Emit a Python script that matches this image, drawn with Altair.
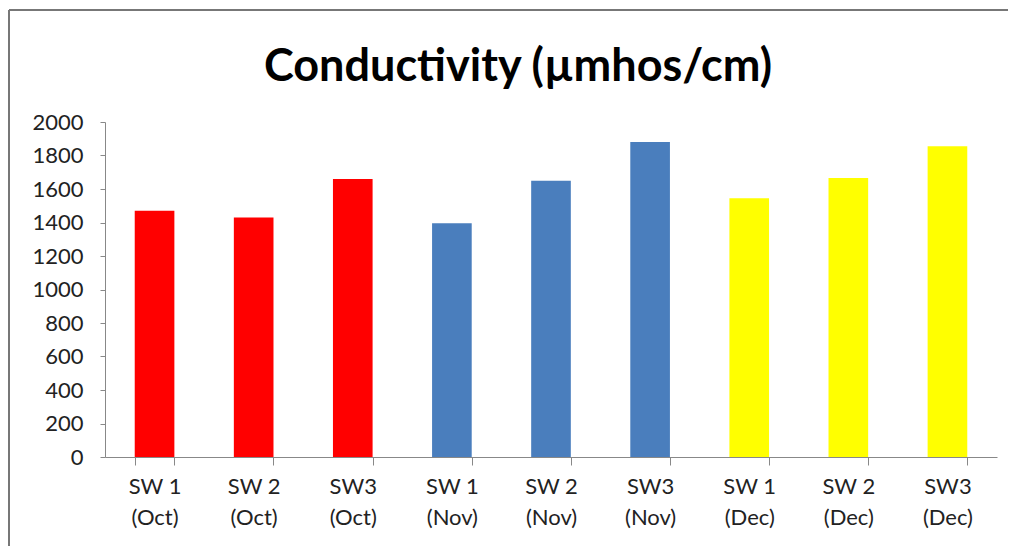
import altair as alt
import pandas as pd

sites = ["SW 1", "SW 2", "SW3", "SW 1", "SW 2", "SW3", "SW 1", "SW 2", "SW3"]
months = ["Oct", "Oct", "Oct", "Nov", "Nov", "Nov", "Dec", "Dec", "Dec"]
values = [1470, 1430, 1660, 1395, 1650, 1880, 1545, 1665, 1855]
month_names = ["Oct", "Nov", "Dec"]
month_colors = ["#FF0000", "#4A7EBD", "#FFFF00"]
y_ticks = [0, 200, 400, 600, 800, 1000, 1200, 1400, 1600, 1800, 2000]
title_text = ["Conductivity (µmhos/cm)"]

labels = [f"{s}|({m})" for s, m in zip(sites, months)]
df = pd.DataFrame({"label": labels, "month": months, "value": values})

FONT = "Lato"
W, H = 892, 335

bars = alt.Chart(df).mark_bar().encode(
    x=alt.X("label:N", sort=labels, title=None,
            scale=alt.Scale(paddingInner=0.6, paddingOuter=0.3),
            axis=alt.Axis(labelAngle=0,
                          labelExpr="datum.value ? split(datum.value, '|') : ''",
                          labelFont=FONT, labelFontSize=22, labelColor="#222",
                          labelLineHeight=31, labelPadding=11,
                          tickBand="extent", tickSize=8, tickColor="#888",
                          domainColor="#888", labelBaseline="top")),
    y=alt.Y("value:Q", title=None,
            scale=alt.Scale(domain=[0, 2000], nice=False),
            axis=alt.Axis(values=y_ticks, grid=False, format="d", labelFont=FONT,
                          labelFontSize=22, labelColor="#222", labelPadding=17,
                          tickSize=5, tickColor="#888", domainColor="#888")),
    color=alt.Color("month:N", scale=alt.Scale(domain=month_names, range=month_colors),
                    legend=None),
)

title = alt.Chart(pd.DataFrame({"t": title_text})).mark_text(
    font=FONT, fontSize=45, fontWeight="bold", color="#000",
    align="center", baseline="alphabetic").encode(
    text="t:N", x=alt.value(W / 2 - 33), y=alt.value(-41))

frame = alt.Chart(df).mark_rule(color="#777", strokeWidth=2).encode(
    x=alt.value(-96), x2=alt.value(-96), y=alt.value(-112), y2=alt.value(H + 110))
frame_top = alt.Chart(df).mark_rule(color="#777", strokeWidth=2).encode(
    x=alt.value(-96), x2=alt.value(W + 30), y=alt.value(-112), y2=alt.value(-112))

chart = alt.layer(frame, frame_top, title, bars).properties(
    width=W, height=H,
    autosize=alt.AutoSizeParams(type="none"),
    padding={"left": 97, "top": 114, "right": 11, "bottom": 89},
    background="white",
).configure_view(stroke=None)

chart.save("out.html", embed_options={"renderer": "svg", "actions": False})
